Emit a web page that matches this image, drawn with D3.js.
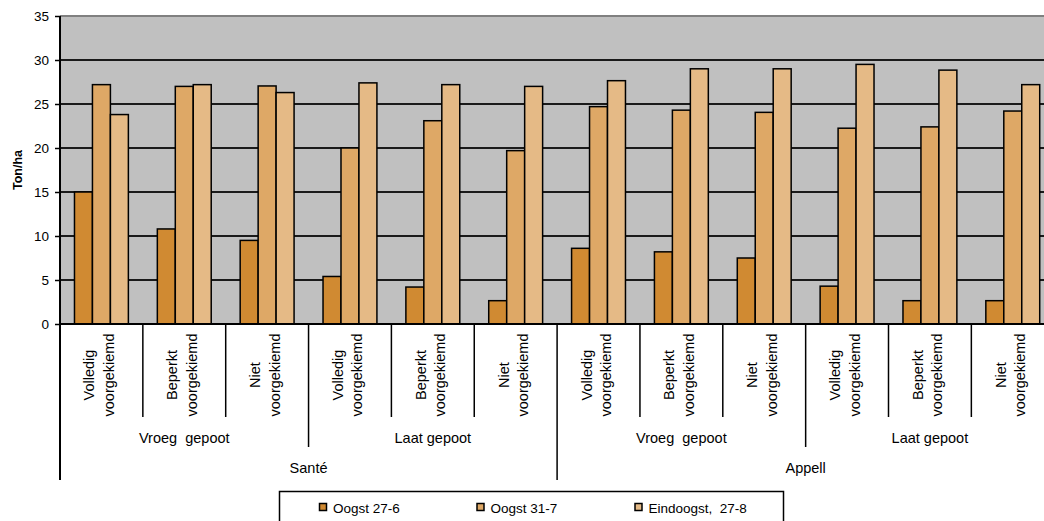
<!DOCTYPE html>
<html>
<head>
<meta charset="utf-8">
<script src="https://cdn.jsdelivr.net/npm/d3@7"></script>
<style>
  html, body { margin: 0; padding: 0; background: #fff; }
  svg { display: block; font-family: "Liberation Sans", Arial, sans-serif; }
  text { white-space: pre; }
</style>
</head>
<body>
<svg id="chart" width="1044" height="521"></svg>
<script>
// Yield (ton/ha) per treatment, three harvest dates
const treatments = [
  ["Volledig", "voorgekiemd"],
  ["Beperkt", "voorgekiemd"],
  ["Niet", "voorgekiemd"]
];
const plantings = ["Vroeg  gepoot", "Laat gepoot"];
const varieties = ["Santé", "Appell"];
const seriesNames = ["Oogst 27-6", "Oogst 31-7", "Eindoogst,  27-8"];

const oogst_27_6 = [15.0, 10.8, 9.5, 5.4, 4.2, 2.65, 8.6, 8.2, 7.5, 4.3, 2.65, 2.65];
const oogst_31_7 = [27.2, 27.0, 27.05, 20.0, 23.1, 19.7, 24.7, 24.3, 24.05, 22.25, 22.4, 24.2];
const eindoogst_27_8 = [23.8, 27.2, 26.3, 27.4, 27.2, 27.0, 27.65, 29.0, 29.0, 29.5, 28.85, 27.2];

const yTicks = [0, 5, 10, 15, 20, 25, 30, 35];
const colors = ["#D08A32", "#DEA866", "#E5BA86"];

// Build the 12 leaf categories (variety > planting > treatment)
const groups = [];
varieties.forEach((v, vi) => plantings.forEach((p, pi) => treatments.forEach((t, ti) => {
  groups.push({ key: `${vi}-${pi}-${ti}`, variety: v, planting: p, treatment: t });
})));
const series = [oogst_27_6, oogst_31_7, eindoogst_27_8];

const svg = d3.select("#chart");
const plotLeft = 60, plotTop = 16, plotBottom = 324;
const step = 82.85;
const plotRight = plotLeft + step * groups.length;

const x = d3.scaleBand().domain(groups.map(g => g.key)).range([plotLeft, plotRight]).paddingInner(0).paddingOuter(0);
const xs = d3.scaleBand().domain(d3.range(3)).range([0, x.bandwidth()]).paddingInner(0).paddingOuter(0.806);
const y = d3.scaleLinear().domain([0, 35]).range([plotBottom, plotTop]);

// Plot background
svg.append("rect").attr("x", plotLeft).attr("y", plotTop).attr("width", plotRight - plotLeft).attr("height", plotBottom - plotTop)
  .attr("fill", "#C0C0C0");

// Gridlines
svg.append("g").selectAll("line").data(yTicks.filter(d => d > 0 && d < 35)).join("line")
  .attr("x1", plotLeft).attr("x2", plotRight).attr("y1", d => y(d)).attr("y2", d => y(d))
  .attr("stroke", "#1a1a1a").attr("stroke-width", 2);
svg.append("line").attr("x1", plotLeft).attr("x2", plotRight).attr("y1", y(35)).attr("y2", y(35))
  .attr("stroke", "#808080").attr("stroke-width", 2);

// Bars
const gBars = svg.append("g");
groups.forEach((g, gi) => {
  series.forEach((s, si) => {
    gBars.append("rect")
      .attr("x", x(g.key) + xs(si))
      .attr("y", y(s[gi]))
      .attr("width", xs.bandwidth())
      .attr("height", y(0) - y(s[gi]))
      .attr("fill", colors[si])
      .attr("stroke", "#000").attr("stroke-width", 1.5);
  });
});

// Y axis
const yAxis = d3.axisLeft(y).tickValues(yTicks).tickSize(5).tickSizeOuter(0);
const ya = svg.append("g").attr("transform", `translate(${plotLeft},0)`).call(yAxis);
ya.select(".domain").remove();
ya.selectAll(".tick line").attr("stroke", "#000").attr("stroke-width", 1.5);
ya.selectAll(".tick text").attr("font-size", 13.5).attr("fill", "#000")
  .attr("font-family", "Liberation Sans, Arial, sans-serif").attr("x", -11);

svg.append("text").attr("transform", `translate(22,170) rotate(-90)`)
  .attr("text-anchor", "middle").attr("font-size", 12.5).attr("font-weight", "bold").text("Ton/ha");

// Axis lines
svg.append("line").attr("x1", plotLeft).attr("x2", plotLeft).attr("y1", plotTop).attr("y2", 480)
  .attr("stroke", "#000").attr("stroke-width", 2);
svg.append("line").attr("x1", plotLeft).attr("x2", plotRight).attr("y1", plotBottom).attr("y2", plotBottom)
  .attr("stroke", "#000").attr("stroke-width", 2);

// Hierarchical category separators
for (let k = 1; k <= groups.length; k++) {
  const xb = plotLeft + k * step;
  let yEnd = 417;
  if (k % 6 === 0) yEnd = 480;
  else if (k % 3 === 0) yEnd = 447;
  svg.append("line").attr("x1", xb).attr("x2", xb).attr("y1", plotBottom).attr("y2", yEnd)
    .attr("stroke", "#000").attr("stroke-width", 1.5);
}

// Treatment labels (rotated, two lines)
groups.forEach(g => {
  const cx = x(g.key) + x.bandwidth() / 2;
  const lines = g.treatment;
  [[lines[0], cx - 7], [lines[1], cx + 12.5]].forEach(([txt, bx]) => {
    svg.append("text")
      .attr("transform", `translate(${bx},375) rotate(-90)`)
      .attr("text-anchor", "middle").attr("font-size", 14.5).attr("fill", "#000").text(txt);
  });
});

// Planting labels
varieties.forEach((v, vi) => plantings.forEach((p, pi) => {
  const i0 = vi * 6 + pi * 3;
  const cx = plotLeft + (i0 + 1.5) * step;
  svg.append("text").attr("x", cx).attr("y", 443).attr("text-anchor", "middle")
    .attr("font-size", 14.5).attr("fill", "#000").text(p);
}));

// Variety labels
varieties.forEach((v, vi) => {
  const cx = plotLeft + (vi * 6 + 3) * step;
  svg.append("text").attr("x", cx).attr("y", 473).attr("text-anchor", "middle")
    .attr("font-size", 14.5).attr("fill", "#000").text(v);
});

// Legend
const lg = svg.append("g");
lg.append("rect").attr("x", 279.5).attr("y", 491.5).attr("width", 504).attr("height", 40)
  .attr("fill", "#fff").attr("stroke", "#000").attr("stroke-width", 1.5);
const legendX = [319.5, 477, 635];
seriesNames.forEach((n, i) => {
  lg.append("rect").attr("x", legendX[i]).attr("y", 503.5).attr("width", 7).attr("height", 7)
    .attr("fill", colors[i]).attr("stroke", "#000").attr("stroke-width", 1.5);
  lg.append("text").attr("x", legendX[i] + 13.5).attr("y", 512.5).attr("font-size", 13.5)
    .attr("fill", "#000").text(n);
});
</script>
</body>
</html>
